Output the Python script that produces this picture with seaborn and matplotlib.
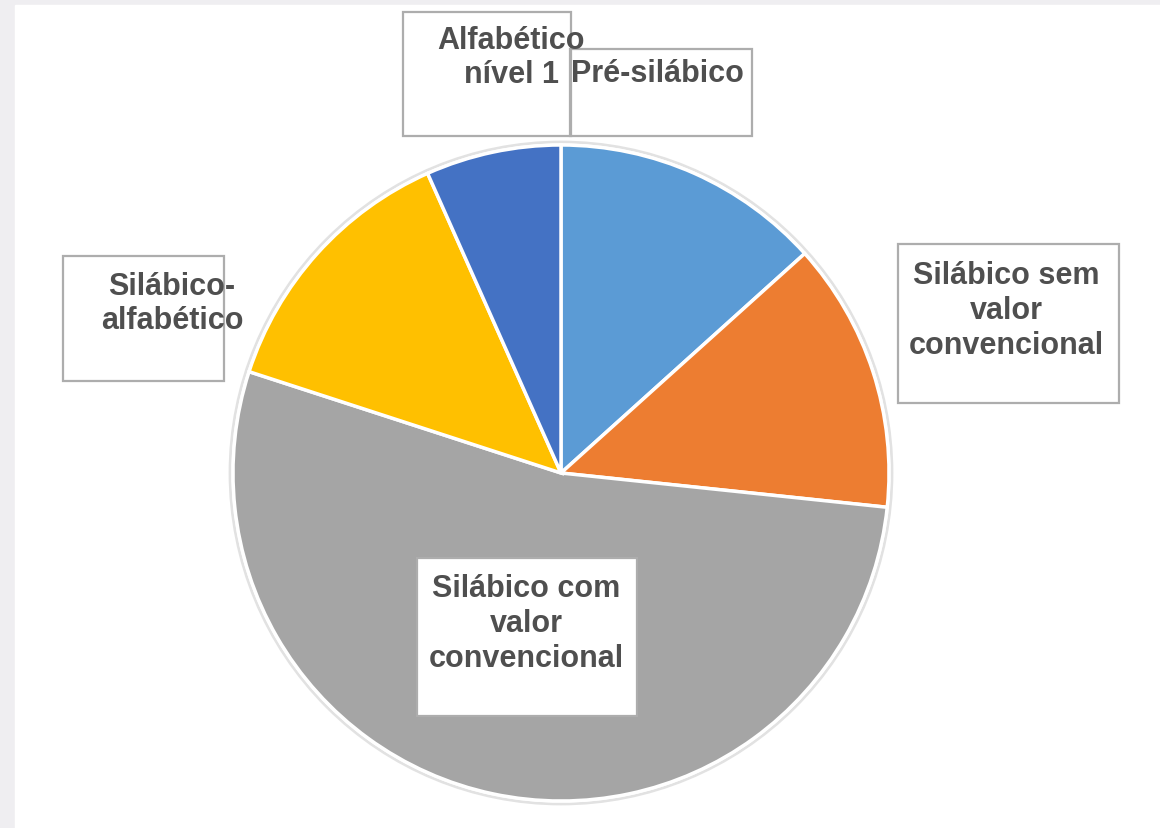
import matplotlib
matplotlib.use("Agg")
import matplotlib.pyplot as plt
from matplotlib.patches import Rectangle, Circle
import seaborn as sns

# Data
categories = [
    "Pré-silábico",
    "Silábico sem\nvalor\nconvencional",
    "Silábico com\nvalor\nconvencional",
    "Silábico-\nalfabético",
    "Alfabético\nnível 1",
]
counts = [2, 2, 8, 2, 1]
colors = ["#5B9BD5", "#ED7D31", "#A5A5A5", "#FFC000", "#4472C4"]

sns.set_theme(style="white")
plt.rcParams["font.family"] = ["Liberation Sans", "DejaVu Sans"]

W, H = 1160, 829

# label layout in pixel coords (top-left origin): box (x0, y0, x1, y1), text centre, box fill
label_layout = [
    ((570, 50, 752, 137), (657, 74), "none"),
    ((898, 245, 1119, 404), (1006, 311), "white"),
    ((417, 559, 637, 717), (526, 624), "white"),
    ((63, 257, 224, 382), (172, 304), "none"),
    ((403, 13, 571, 137), (511, 58), "none"),
]

fig = plt.figure(figsize=(W / 100, H / 100), dpi=100)
ax = fig.add_axes([0, 0, 1, 1])

# page background (light grey strip on left and top)
ax.add_patch(Rectangle((0, 0), W, H, color="#EFEEF1", zorder=0))
ax.add_patch(Rectangle((15, 0), W - 15, H - 6, color="white", zorder=0.1))

cx, cy, r = 561, H - 474, 328
ax.add_patch(Circle((cx, cy), r + 3, facecolor="none", edgecolor="#E2E2E2",
                    linewidth=2, zorder=0.5))
ax.pie(counts, colors=colors, startangle=90, counterclock=False,
       center=(cx, cy), radius=r,
       wedgeprops=dict(edgecolor="white", linewidth=2.5))

for label, (box, txt, fill) in zip(categories, label_layout):
    x0, y0, x1, y1 = box
    ax.add_patch(Rectangle((x0, H - y1), x1 - x0, y1 - y0, facecolor=fill,
                           edgecolor="#ADADAD", linewidth=1.6, zorder=3))
    ax.text(txt[0], H - txt[1], label, ha="center", va="center",
            multialignment="center", fontsize=22, fontweight="bold",
            color="#4F4F4F", zorder=4)

ax.set_xlim(0, W)
ax.set_ylim(0, H)
ax.set_aspect("auto")
ax.axis("off")

fig.savefig("out.png", dpi=100)
plt.close(fig)
